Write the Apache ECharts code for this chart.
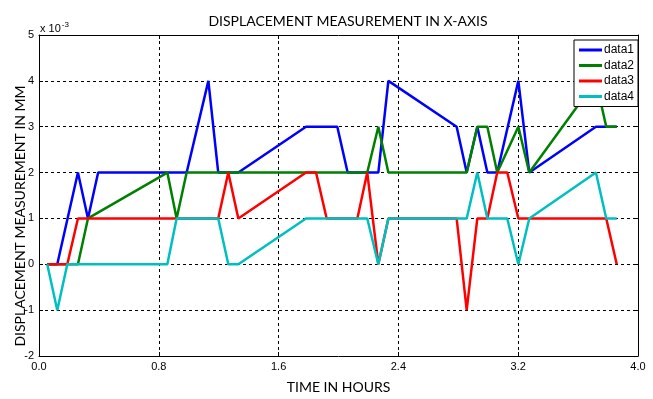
<!DOCTYPE html>
<html><head><meta charset="utf-8">
<script src="https://cdn.jsdelivr.net/npm/echarts@6/dist/echarts.min.js"></script>
<style>html,body{margin:0;padding:0;background:#fff}#c{width:653px;height:399px}</style>
</head><body><div id="c"></div>
<script>
// Values in units of 1e-3 mm; time in hours
const seriesNames = ['data1', 'data2', 'data3', 'data4'];
const data1X = [0.055,0.122,0.260,0.327,0.395,0.986,1.131,1.197,1.331,1.783,1.992,2.061,2.266,2.333,2.789,2.856,2.927,2.994,3.060,3.201,3.274,3.719,3.858];
const data1Y = [0,0,2,1,2,2,4,2,2,3,3,2,2,4,3,2,3,2,2,4,2,3,3];
const data2X = [0.055,0.260,0.327,0.857,0.919,0.986,2.192,2.266,2.333,2.856,2.927,2.994,3.060,3.201,3.274,3.719,3.788,3.858];
const data2Y = [0,0,1,2,1,2,2,3,2,2,3,3,2,3,2,4,3,3];
const data3X = [0.055,0.189,0.260,1.197,1.264,1.331,1.783,1.850,1.921,2.126,2.192,2.266,2.333,2.789,2.856,2.927,2.994,3.060,3.127,3.201,3.788,3.858];
const data3Y = [0,0,1,1,2,1,2,2,1,1,2,0,1,1,-1,1,1,2,2,1,1,0];
const data4X = [0.055,0.122,0.189,0.857,0.919,1.197,1.264,1.331,1.783,2.192,2.266,2.333,2.856,2.927,2.994,3.127,3.201,3.274,3.719,3.788,3.858];
const data4Y = [0,-1,0,0,1,1,0,0,1,1,0,1,1,2,1,1,0,1,2,1,1];
const xTickLabels = ['0.0','0.8','1.6','2.4','3.2','4.0'];
const yTickLabels = ['-2','-1','0','1','2','3','4','5'];
const colors = ['#0000FF', '#008000', '#FF0000', '#00BFBF'];

const xs = [data1X, data2X, data3X, data4X];
const ys = [data1Y, data2Y, data3Y, data4Y];

const chart = echarts.init(document.getElementById('c'), null, {renderer: 'canvas'});
const tickFont = {fontFamily: 'Liberation Sans, Arial, sans-serif', fontSize: 11, color: '#000'};
const gridLine = {show: true, lineStyle: {color: '#000', type: [3, 3], width: 1}};
const axisLine = {show: true, onZero: false, lineStyle: {color: '#000', width: 1}};
const tick = {show: true, inside: true, length: 4, lineStyle: {color: '#000'}};

chart.setOption({
  animation: false,
  backgroundColor: '#fff',
  color: colors,
  title: {
    text: 'DISPLACEMENT MEASUREMENT IN X-AXIS',
    left: 343, top: 9, textAlign: 'center',
    textStyle: {fontFamily: 'Lato, sans-serif', fontSize: 14, fontWeight: 'normal', color: '#000'}
  },
  grid: {left: 39, right: 15, top: 35, bottom: 41, containLabel: false},
  legend: {
    data: seriesNames,
    orient: 'vertical',
    left: 574, top: 40,
    backgroundColor: '#fff',
    borderColor: '#000', borderWidth: 1,
    padding: [4, 4, 4, 5],
    itemWidth: 23, itemHeight: 3, itemGap: 3.5,
    icon: 'rect',
    textStyle: {fontFamily: 'Liberation Sans Narrow, Liberation Sans, Arial, sans-serif', fontSize: 12, color: '#000', lineHeight: 12, padding: [0, 0, 0, -3]}
  },
  xAxis: [{
    type: 'value', min: 0, max: 4, interval: 0.8,
    axisLine: axisLine, axisTick: tick, splitLine: gridLine,
    axisLabel: Object.assign({margin: 5, formatter: (v) => xTickLabels[Math.round(v / 0.8)]}, tickFont),
    name: 'TIME IN HOURS', nameLocation: 'middle', nameGap: 24,
    nameTextStyle: {fontFamily: 'Lato, sans-serif', fontSize: 14, color: '#000'}
  }, {
    type: 'value', min: 0, max: 4, interval: 0.8, position: 'top',
    axisLine: axisLine, axisTick: tick, splitLine: {show: false}, axisLabel: {show: false}
  }],
  yAxis: [{
    type: 'value', min: -2, max: 5, interval: 1,
    axisLine: axisLine, axisTick: tick, splitLine: gridLine,
    axisLabel: Object.assign({margin: 5, formatter: (v) => yTickLabels[Math.round(v + 2)]}, tickFont)
  }, {
    type: 'value', min: -2, max: 5, interval: 1, position: 'right',
    axisLine: axisLine, axisTick: tick, splitLine: {show: false}, axisLabel: {show: false}
  }],
  graphic: [{
    type: 'text', left: 40, top: 21,
    style: {
      text: '{a|x 10}{b|-3}',
      rich: {
        a: {fontFamily: 'Liberation Sans, Arial, sans-serif', fontSize: 11, fill: '#000'},
        b: {fontFamily: 'Liberation Sans, Arial, sans-serif', fontSize: 8, fill: '#000', verticalAlign: 'top', padding: [0, 0, 8, 1]}
      }
    }
  }, {
    type: 'text', x: 20, y: 216, rotation: Math.PI / 2,
    style: {
      text: 'DISPLACEMENT MEASUREMENT IN MM',
      align: 'center', verticalAlign: 'middle',
      fontFamily: 'Lato, sans-serif', fontSize: 14, fill: '#000'
    }
  }],
  series: seriesNames.map((name, i) => ({
    name: name,
    type: 'line',
    showSymbol: false,
    symbol: 'none',
    lineStyle: {width: 2.5, color: colors[i]},
    itemStyle: {color: colors[i]},
    data: xs[i].map((x, j) => [x, ys[i][j]])
  }))
});
</script>
</body></html>
